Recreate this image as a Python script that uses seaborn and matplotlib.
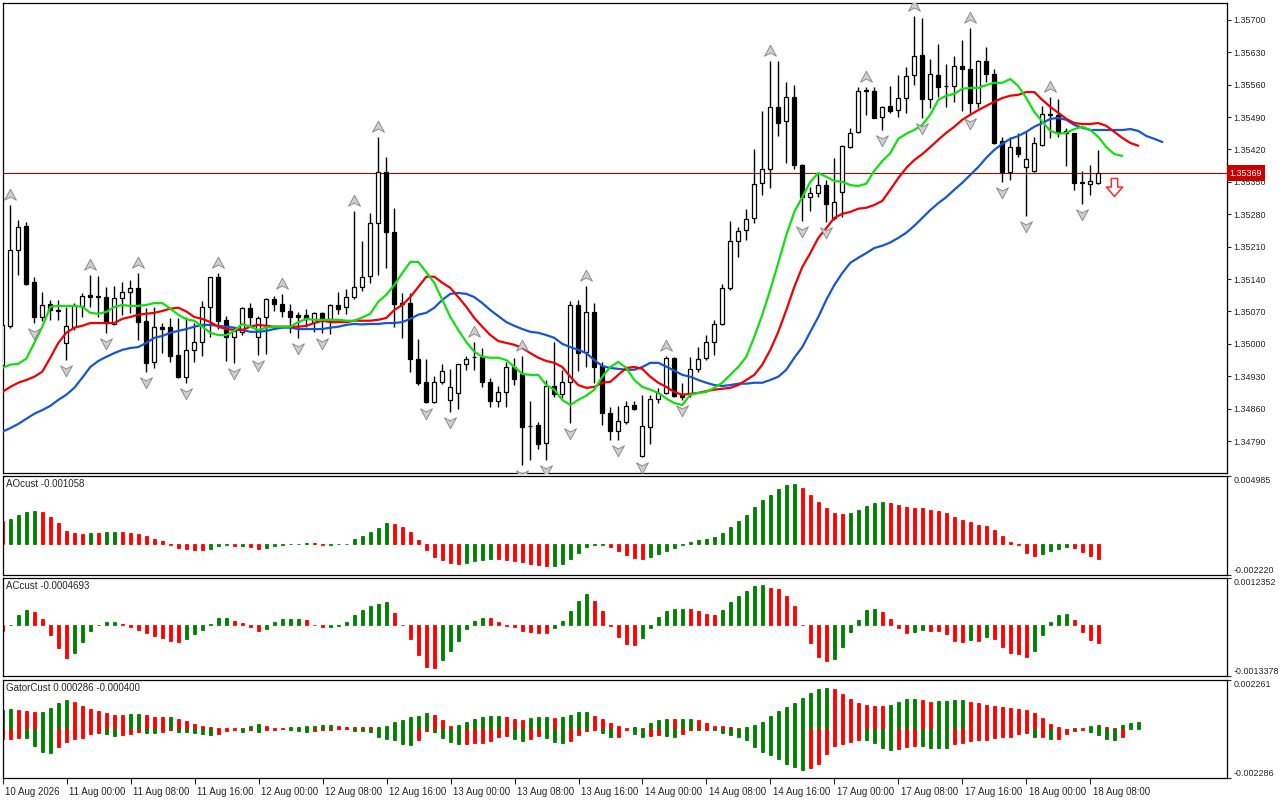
import numpy as np
import matplotlib
matplotlib.use("Agg")
import matplotlib.pyplot as plt
from matplotlib.path import Path
from matplotlib import transforms
import seaborn as sns

sns.set_style("white")
plt.rcParams["font.family"] = ["Liberation Sans", "DejaVu Sans"]
plt.rcParams["axes.edgecolor"] = "black"
plt.rcParams["axes.linewidth"] = 0.9

# hourly candles, 10 Aug 16:00 .. 18 Aug 09:00
opens = [
    1.34955, 1.35039, 1.35203, 1.35255, 1.35134, 1.35058, 1.35086, 1.35073, 1.35002, 1.35037,
    1.35082, 1.35106, 1.35104, 1.35101, 1.35043, 1.35099, 1.35112, 1.35121, 1.35050, 1.34961,
    1.35037, 1.35037, 1.34976, 1.34929, 1.34987, 1.35004, 1.35080, 1.35145, 1.35052, 1.35015,
    1.35026, 1.35078, 1.35015, 1.35058, 1.35097, 1.35086, 1.35071, 1.35063, 1.35063, 1.35047,
    1.35067, 1.35054, 1.35084, 1.35080, 1.35101, 1.35123, 1.35147, 1.35261, 1.35371, 1.35242,
    1.35088, 1.35088, 1.34968, 1.34918, 1.34875, 1.34918, 1.34879, 1.34894, 1.34957, 1.34972,
    1.34972, 1.34918, 1.34877, 1.34896, 1.34950, 1.34935, 1.34823, 1.34825, 1.34786, 1.34909,
    1.34892, 1.34918, 1.35084, 1.34983, 1.35069, 1.34952, 1.34851, 1.34812, 1.34831, 1.34868,
    1.34758, 1.34821, 1.34881, 1.34894, 1.34970, 1.34892, 1.34892, 1.34946, 1.34970, 1.35004,
    1.35043, 1.35121, 1.35222, 1.35246, 1.35272, 1.35348, 1.35378, 1.35512, 1.35482, 1.35534,
    1.35387, 1.35317, 1.35326, 1.35343, 1.35272, 1.35328, 1.35425, 1.35458, 1.35548, 1.35546,
    1.35490, 1.35514, 1.35505, 1.35531, 1.35581, 1.35624, 1.35529, 1.35581, 1.35558, 1.35557,
    1.35600, 1.35594, 1.35521, 1.35611, 1.35583, 1.35438, 1.35371, 1.35425, 1.35382, 1.35374,
    1.35430, 1.35496, 1.35495, 1.35460, 1.35456, 1.35349, 1.35346, 1.35348]
highs = [
    1.35052, 1.35300, 1.35268, 1.35263, 1.35145, 1.35112, 1.35095, 1.35095, 1.35080, 1.35088,
    1.35110, 1.35149, 1.35147, 1.35123, 1.35125, 1.35134, 1.35138, 1.35153, 1.35078, 1.35080,
    1.35045, 1.35056, 1.35056, 1.35058, 1.35045, 1.35093, 1.35145, 1.35153, 1.35060, 1.35037,
    1.35080, 1.35088, 1.35060, 1.35099, 1.35104, 1.35108, 1.35086, 1.35069, 1.35076, 1.35069,
    1.35069, 1.35086, 1.35112, 1.35119, 1.35287, 1.35222, 1.35283, 1.35447, 1.35404, 1.35294,
    1.35110, 1.35110, 1.35011, 1.34968, 1.34931, 1.34957, 1.34946, 1.34957, 1.34974, 1.35004,
    1.34991, 1.34927, 1.34909, 1.34961, 1.34970, 1.34974, 1.34877, 1.34831, 1.34922, 1.35004,
    1.34944, 1.35093, 1.35095, 1.35125, 1.35088, 1.34961, 1.34864, 1.34866, 1.34877, 1.34877,
    1.34890, 1.34890, 1.34905, 1.34974, 1.34972, 1.34916, 1.34972, 1.34993, 1.35019, 1.35052,
    1.35130, 1.35266, 1.35253, 1.35292, 1.35421, 1.35503, 1.35611, 1.35611, 1.35566, 1.35559,
    1.35389, 1.35339, 1.35367, 1.35354, 1.35402, 1.35430, 1.35467, 1.35555, 1.35555, 1.35555,
    1.35514, 1.35557, 1.35581, 1.35598, 1.35708, 1.35704, 1.35616, 1.35648, 1.35605, 1.35622,
    1.35657, 1.35683, 1.35613, 1.35642, 1.35594, 1.35447, 1.35447, 1.35456, 1.35458, 1.35447,
    1.35514, 1.35534, 1.35529, 1.35467, 1.35456, 1.35374, 1.35387, 1.35419]
lows = [
    1.34944, 1.35035, 1.35149, 1.35127, 1.35045, 1.35050, 1.35052, 1.35052, 1.34965, 1.35030,
    1.35058, 1.35080, 1.35058, 1.35024, 1.35041, 1.35063, 1.35067, 1.35009, 1.34940, 1.34948,
    1.34980, 1.34961, 1.34927, 1.34916, 1.34961, 1.34974, 1.35015, 1.35032, 1.34963, 1.34959,
    1.35019, 1.35041, 1.34976, 1.34978, 1.35071, 1.35058, 1.35024, 1.35013, 1.35037, 1.35026,
    1.35024, 1.35022, 1.35065, 1.35065, 1.35097, 1.35114, 1.35132, 1.35149, 1.35164, 1.35037,
    1.35013, 1.34940, 1.34911, 1.34872, 1.34872, 1.34914, 1.34853, 1.34860, 1.34944, 1.34944,
    1.34907, 1.34864, 1.34864, 1.34864, 1.34911, 1.34739, 1.34749, 1.34773, 1.34749, 1.34885,
    1.34883, 1.34829, 1.34942, 1.34950, 1.34916, 1.34825, 1.34793, 1.34793, 1.34827, 1.34857,
    1.34756, 1.34784, 1.34872, 1.34892, 1.34885, 1.34879, 1.34885, 1.34940, 1.34965, 1.34976,
    1.35041, 1.35117, 1.35188, 1.35225, 1.35261, 1.35322, 1.35337, 1.35449, 1.35391, 1.35378,
    1.35266, 1.35287, 1.35317, 1.35263, 1.35268, 1.35274, 1.35423, 1.35456, 1.35495, 1.35488,
    1.35462, 1.35499, 1.35490, 1.35499, 1.35559, 1.35488, 1.35510, 1.35534, 1.35512, 1.35523,
    1.35503, 1.35499, 1.35510, 1.35566, 1.35432, 1.35350, 1.35354, 1.35404, 1.35276, 1.35371,
    1.35428, 1.35445, 1.35447, 1.35384, 1.35333, 1.35302, 1.35322, 1.35346]
closes = [
    1.35041, 1.35203, 1.35253, 1.35130, 1.35058, 1.35084, 1.35073, 1.35071, 1.35039, 1.35084,
    1.35104, 1.35101, 1.35101, 1.35045, 1.35099, 1.35112, 1.35121, 1.35047, 1.34959, 1.35037,
    1.35032, 1.34974, 1.34929, 1.34987, 1.35004, 1.35080, 1.35145, 1.35050, 1.35015, 1.35028,
    1.35078, 1.35058, 1.35056, 1.35097, 1.35086, 1.35071, 1.35058, 1.35058, 1.35054, 1.35067,
    1.35054, 1.35084, 1.35076, 1.35101, 1.35123, 1.35145, 1.35261, 1.35371, 1.35242, 1.35086,
    1.35086, 1.34968, 1.34916, 1.34875, 1.34918, 1.34942, 1.34907, 1.34957, 1.34968, 1.34971,
    1.34918, 1.34877, 1.34896, 1.34950, 1.34924, 1.34821, 1.34822, 1.34784, 1.34909, 1.34892,
    1.34918, 1.35084, 1.34980, 1.35069, 1.34950, 1.34851, 1.34812, 1.34834, 1.34866, 1.34860,
    1.34823, 1.34881, 1.34894, 1.34970, 1.34888, 1.34885, 1.34946, 1.34968, 1.35004, 1.35043,
    1.35121, 1.35222, 1.35244, 1.35270, 1.35346, 1.35378, 1.35512, 1.35477, 1.35534, 1.35387,
    1.35317, 1.35326, 1.35343, 1.35302, 1.35307, 1.35428, 1.35456, 1.35546, 1.35546, 1.35488,
    1.35512, 1.35503, 1.35531, 1.35579, 1.35622, 1.35529, 1.35583, 1.35555, 1.35557, 1.35600,
    1.35594, 1.35521, 1.35611, 1.35583, 1.35434, 1.35371, 1.35425, 1.35410, 1.35400, 1.35434,
    1.35497, 1.35495, 1.35456, 1.35456, 1.35348, 1.35347, 1.35352, 1.35369]

# alligator lines (already shifted forward: lips +3, teeth +5, jaw +8 bars)
lips = [
    1.34948, 1.34955, 1.34957, 1.34968, 1.35002, 1.35037, 1.35080, 1.35082, 1.35082, 1.35082,
    1.35080, 1.35067, 1.35065, 1.35069, 1.35080, 1.35084, 1.35082, 1.35082, 1.35084, 1.35088,
    1.35088, 1.35076, 1.35063, 1.35053, 1.35050, 1.35037, 1.35024, 1.35019, 1.35019, 1.35028,
    1.35043, 1.35037, 1.35030, 1.35035, 1.35037, 1.35037, 1.35037, 1.35047, 1.35054, 1.35052,
    1.35052, 1.35052, 1.35052, 1.35050, 1.35050, 1.35057, 1.35065, 1.35091, 1.35106, 1.35127,
    1.35153, 1.35177, 1.35177, 1.35155, 1.35132, 1.35095, 1.35058, 1.35030, 1.35004, 1.34983,
    1.34972, 1.34970, 1.34970, 1.34965, 1.34950, 1.34935, 1.34933, 1.34933, 1.34911, 1.34901,
    1.34879, 1.34868, 1.34879, 1.34888, 1.34901, 1.34929, 1.34950, 1.34961, 1.34948, 1.34922,
    1.34907, 1.34901, 1.34894, 1.34882, 1.34872, 1.34868, 1.34890, 1.34894, 1.34896, 1.34905,
    1.34916, 1.34933, 1.34950, 1.34972, 1.35015, 1.35063, 1.35117, 1.35175, 1.35235, 1.35285,
    1.35317, 1.35350, 1.35369, 1.35361, 1.35352, 1.35350, 1.35343, 1.35341, 1.35346, 1.35374,
    1.35395, 1.35412, 1.35443, 1.35454, 1.35462, 1.35473, 1.35495, 1.35527, 1.35536, 1.35540,
    1.35551, 1.35553, 1.35553, 1.35559, 1.35564, 1.35564, 1.35572, 1.35557, 1.35531, 1.35501,
    1.35480, 1.35460, 1.35454, 1.35456, 1.35464, 1.35469, 1.35462, 1.35447, 1.35425, 1.35410,
    1.35406]
teeth = [
    1.34896, 1.34907, 1.34916, 1.34922, 1.34929, 1.34940, 1.34970, 1.35002, 1.35024, 1.35035,
    1.35039, 1.35045, 1.35045, 1.35045, 1.35045, 1.35054, 1.35058, 1.35063, 1.35065, 1.35067,
    1.35071, 1.35076, 1.35078, 1.35070, 1.35058, 1.35054, 1.35047, 1.35037, 1.35032, 1.35030,
    1.35030, 1.35037, 1.35041, 1.35039, 1.35037, 1.35037, 1.35037, 1.35037, 1.35039, 1.35045,
    1.35050, 1.35047, 1.35047, 1.35047, 1.35050, 1.35050, 1.35050, 1.35052, 1.35056, 1.35073,
    1.35084, 1.35101, 1.35123, 1.35145, 1.35145, 1.35132, 1.35121, 1.35101, 1.35080, 1.35056,
    1.35037, 1.35019, 1.35006, 1.35002, 1.34998, 1.34991, 1.34980, 1.34970, 1.34963, 1.34959,
    1.34950, 1.34929, 1.34911, 1.34905, 1.34907, 1.34916, 1.34918, 1.34933, 1.34948, 1.34950,
    1.34946, 1.34929, 1.34916, 1.34907, 1.34896, 1.34890, 1.34892, 1.34894, 1.34898, 1.34901,
    1.34903, 1.34905, 1.34911, 1.34922, 1.34933, 1.34955, 1.34987, 1.35026, 1.35073, 1.35123,
    1.35166, 1.35196, 1.35229, 1.35250, 1.35272, 1.35281, 1.35285, 1.35292, 1.35294, 1.35300,
    1.35309, 1.35333, 1.35358, 1.35380, 1.35397, 1.35410, 1.35425, 1.35441, 1.35456, 1.35469,
    1.35484, 1.35495, 1.35505, 1.35514, 1.35523, 1.35531, 1.35536, 1.35538, 1.35544, 1.35544,
    1.35527, 1.35512, 1.35499, 1.35486, 1.35477, 1.35475, 1.35475, 1.35477, 1.35471, 1.35458,
    1.35445, 1.35434, 1.35428]
jaw = [
    1.34810, 1.34818, 1.34827, 1.34838, 1.34849, 1.34857, 1.34866, 1.34879, 1.34890, 1.34905,
    1.34927, 1.34950, 1.34963, 1.34972, 1.34980, 1.34987, 1.34991, 1.34993, 1.35002, 1.35013,
    1.35017, 1.35024, 1.35028, 1.35032, 1.35037, 1.35041, 1.35041, 1.35039, 1.35037, 1.35035,
    1.35030, 1.35026, 1.35026, 1.35028, 1.35032, 1.35035, 1.35035, 1.35032, 1.35032, 1.35032,
    1.35032, 1.35035, 1.35037, 1.35041, 1.35043, 1.35042, 1.35043, 1.35043, 1.35045, 1.35045,
    1.35047, 1.35054, 1.35063, 1.35067, 1.35078, 1.35095, 1.35108, 1.35110, 1.35108, 1.35101,
    1.35088, 1.35073, 1.35060, 1.35047, 1.35039, 1.35032, 1.35026, 1.35024, 1.35019, 1.35013,
    1.35000, 1.34993, 1.34987, 1.34980, 1.34965, 1.34952, 1.34948, 1.34946, 1.34944, 1.34944,
    1.34950, 1.34959, 1.34959, 1.34951, 1.34942, 1.34933, 1.34929, 1.34922, 1.34916, 1.34911,
    1.34909, 1.34911, 1.34914, 1.34914, 1.34916, 1.34916, 1.34922, 1.34929, 1.34944, 1.34970,
    1.34993, 1.35026, 1.35058, 1.35095, 1.35127, 1.35153, 1.35175, 1.35186, 1.35196, 1.35207,
    1.35212, 1.35219, 1.35229, 1.35240, 1.35255, 1.35272, 1.35289, 1.35304, 1.35317, 1.35333,
    1.35348, 1.35365, 1.35382, 1.35402, 1.35419, 1.35432, 1.35443, 1.35449, 1.35458, 1.35469,
    1.35477, 1.35486, 1.35488, 1.35484, 1.35473, 1.35467, 1.35462, 1.35462, 1.35462, 1.35462,
    1.35462, 1.35464, 1.35460, 1.35449, 1.35443, 1.35436]

up_fractals = [1, 11, 17, 27, 35, 44, 47, 59, 65, 73, 83, 96, 108, 114, 121, 131]
down_fractals = [4, 8, 13, 18, 23, 29, 32, 37, 40, 53, 56, 65, 68, 71, 77, 80, 85,
                 100, 103, 110, 115, 121, 125, 128, 135]
signal_bar = 139
signal_price = 1.35339

ao = [
    0.00167, 0.00184, 0.00213, 0.00235, 0.00243, 0.00234, 0.00198, 0.00154, 0.00096, 0.00081,
    0.00074, 0.00081, 0.00080, 0.00088, 0.00089, 0.00087, 0.00081, 0.00074, 0.00059, 0.00037,
    0.00022, -0.00005, -0.00029, -0.00037, -0.00044, -0.00045, -0.00037, -0.00012, -0.00007, -0.00012,
    -0.00011, -0.00022, -0.00037, -0.00029, -0.00015, -0.00005, -0.00002, 0.00001, 0.00012, 0.00007,
    -0.00005, -0.00003, -0.00002, 0.00002, 0.00037, 0.00059, 0.00088, 0.00118, 0.00154, 0.00147,
    0.00125, 0.00088, 0.00029, -0.00044, -0.00096, -0.00118, -0.00140, -0.00147, -0.00140, -0.00125,
    -0.00118, -0.00110, -0.00111, -0.00118, -0.00125, -0.00132, -0.00147, -0.00154, -0.00162, -0.00161,
    -0.00147, -0.00110, -0.00066, -0.00022, -0.00005, -0.00004, -0.00022, -0.00051, -0.00081, -0.00103,
    -0.00110, -0.00096, -0.00074, -0.00051, -0.00029, -0.00005, 0.00015, 0.00029, 0.00037, 0.00051,
    0.00081, 0.00125, 0.00169, 0.00213, 0.00272, 0.00323, 0.00360, 0.00404, 0.00434, 0.00441,
    0.00412, 0.00360, 0.00309, 0.00265, 0.00228, 0.00221, 0.00228, 0.00250, 0.00279, 0.00301,
    0.00309, 0.00301, 0.00287, 0.00272, 0.00265, 0.00263, 0.00250, 0.00243, 0.00228, 0.00198,
    0.00176, 0.00162, 0.00140, 0.00132, 0.00103, 0.00059, 0.00015, -0.00007, -0.00066, -0.00088,
    -0.00074, -0.00051, -0.00037, -0.00022, -0.00029, -0.00059, -0.00088, -0.001058]
ac = [
    -0.000168, 0.000009, 0.000266, 0.000398, 0.000345, 0.000159, -0.000257, -0.000602, -0.000867, -0.000735,
    -0.000443, -0.000150, 0.000004, 0.000080, 0.000084, 0.000018, -0.000053, -0.000124, -0.000204, -0.000283,
    -0.000336, -0.000416, -0.000443, -0.000363, -0.000230, -0.000124, 0.000027, 0.000186, 0.000190, 0.000106,
    0.000053, -0.000044, -0.000150, -0.000097, 0.000080, 0.000159, 0.000164, 0.000168, 0.000133, 0.000009,
    -0.000053, -0.000044, -0.000018, 0.000080, 0.000266, 0.000398, 0.000504, 0.000558, 0.000611, 0.000319,
    -0.000009, -0.000363, -0.000788, -0.001106, -0.001133, -0.000920, -0.000681, -0.000416, -0.000097, 0.000106,
    0.000186, 0.000181, 0.000080, -0.000018, -0.000044, -0.000150, -0.000177, -0.000204, -0.000208, -0.000071,
    0.000106, 0.000372, 0.000637, 0.000797, 0.000637, 0.000372, -0.000018, -0.000310, -0.000496, -0.000522,
    -0.000336, -0.000071, 0.000212, 0.000372, 0.000425, 0.000429, 0.000427, 0.000372, 0.000292, 0.000266,
    0.000398, 0.000611, 0.000770, 0.000876, 0.001009, 0.001035, 0.000956, 0.000929, 0.000770, 0.000504,
    -0.000009, -0.000469, -0.000841, -0.000947, -0.000894, -0.000575, -0.000177, 0.000133, 0.000398, 0.000425,
    0.000345, 0.000159, -0.000071, -0.000204, -0.000177, -0.000124, -0.000150, -0.000155, -0.000230, -0.000416,
    -0.000443, -0.000389, -0.000416, -0.000310, -0.000363, -0.000575, -0.000735, -0.000761, -0.000841, -0.000681,
    -0.000257, 0.000080, 0.000266, 0.000292, 0.000133, -0.000177, -0.000389, -0.0004693]
gator_up = [
    0.000876, 0.000922, 0.000876, 0.000830, 0.000784, 0.000792, 0.000968, 0.001199, 0.001337, 0.001245,
    0.001061, 0.000922, 0.000830, 0.000738, 0.000646, 0.000638, 0.000692, 0.000699, 0.000646, 0.000553,
    0.000546, 0.000553, 0.000461, 0.000369, 0.000231, 0.000138, 0.000061, 0.000046, 0.000038, 0.000031,
    0.000023, 0.000138, 0.000231, 0.000138, 0.000046, 0.000038, 0.000092, 0.000100, 0.000108, 0.000115,
    0.000184, 0.000192, 0.000138, 0.000092, 0.000085, 0.000077, 0.000069, 0.000092, 0.000138, 0.000323,
    0.000415, 0.000553, 0.000599, 0.000738, 0.000646, 0.000415, 0.000138, 0.000154, 0.000323, 0.000461,
    0.000553, 0.000599, 0.000607, 0.000553, 0.000461, 0.000415, 0.000507, 0.000553, 0.000561, 0.000507,
    0.000553, 0.000646, 0.000784, 0.000792, 0.000599, 0.000461, 0.000277, 0.000138, 0.000046, 0.000092,
    0.000046, 0.000277, 0.000415, 0.000461, 0.000446, 0.000461, 0.000469, 0.000415, 0.000277, 0.000138,
    0.000131, 0.000092, 0.000046, 0.000092, 0.000184, 0.000323, 0.000599, 0.000830, 0.001014, 0.001199,
    0.001429, 0.001660, 0.001844, 0.001891, 0.001844, 0.001614, 0.001383, 0.001199, 0.001107, 0.001061,
    0.001053, 0.001107, 0.001245, 0.001383, 0.001391, 0.001337, 0.001245, 0.001291, 0.001299, 0.001337,
    0.001345, 0.001245, 0.001199, 0.001107, 0.001061, 0.001014, 0.000968, 0.000922, 0.000876, 0.000738,
    0.000507, 0.000231, 0.000092, 0.000008, 0.000046, 0.000038, 0.000138, 0.000184, 0.000092, 0.000046,
    0.000184, 0.000286, 0.000323]
gator_down = [
    -0.000492, -0.000461, -0.000430, -0.000446, -0.000784, -0.001061, -0.001107, -0.000830, -0.000599, -0.000461,
    -0.000415, -0.000231, -0.000184, -0.000231, -0.000323, -0.000277, -0.000231, -0.000138, -0.000184, -0.000192,
    -0.000138, -0.000046, -0.000138, -0.000146, -0.000184, -0.000231, -0.000277, -0.000231, -0.000092, -0.000046,
    -0.000138, -0.000046, -0.000138, -0.000046, -0.000038, -0.000031, -0.000046, -0.000092, -0.000138, -0.000092,
    -0.000046, -0.000038, -0.000031, -0.000023, -0.000092, -0.000100, -0.000138, -0.000369, -0.000461, -0.000507,
    -0.000692, -0.000769, -0.000538, -0.000092, -0.000138, -0.000415, -0.000599, -0.000722, -0.000692, -0.000676,
    -0.000661, -0.000553, -0.000369, -0.000354, -0.000461, -0.000553, -0.000461, -0.000323, -0.000415, -0.000599,
    -0.000676, -0.000584, -0.000277, -0.000123, -0.000046, -0.000184, -0.000369, -0.000361, -0.000046, -0.000231,
    -0.000369, -0.000323, -0.000277, -0.000323, -0.000369, -0.000231, -0.000046, -0.000054, -0.000049, -0.000052,
    -0.000184, -0.000277, -0.000369, -0.000507, -0.000830, -0.001061, -0.001199, -0.001383, -0.001614, -0.001752,
    -0.001891, -0.001798, -0.001614, -0.001153, -0.000784, -0.000692, -0.000599, -0.000507, -0.000515, -0.000646,
    -0.000876, -0.000968, -0.000922, -0.000830, -0.000784, -0.000792, -0.000876, -0.000884, -0.000887, -0.000692,
    -0.000646, -0.000553, -0.000507, -0.000500, -0.000446, -0.000369, -0.000361, -0.000231, -0.000184, -0.000369,
    -0.000361, -0.000461, -0.000453, -0.000231, -0.000092, -0.000046, -0.000138, -0.000277, -0.000461, -0.000507,
    -0.000400]

price_ticks = [1.34790, 1.34860, 1.34930, 1.35000, 1.35070, 1.35140, 1.35210,
               1.35280, 1.35350, 1.35420, 1.35490, 1.35560, 1.35630, 1.35700]
tick_bars = [0, 8, 16, 24, 32, 40, 48, 56, 64, 72, 80, 88, 96, 104, 112, 120, 128, 136]
tick_labels = ["10 Aug 2026", "11 Aug 00:00", "11 Aug 08:00", "11 Aug 16:00", "12 Aug 00:00",
               "12 Aug 08:00", "12 Aug 16:00", "13 Aug 00:00", "13 Aug 08:00", "13 Aug 16:00",
               "14 Aug 00:00", "14 Aug 08:00", "14 Aug 16:00", "17 Aug 00:00", "17 Aug 08:00",
               "17 Aug 16:00", "18 Aug 00:00", "18 Aug 08:00"]

GREEN = "#008000"
RED = "#ff0000"
FS = 7        # time labels / pane titles
FS_Y = 6.4    # right-hand price scale


def trend_colors(vals, first, use_abs=False):
    v = np.abs(vals) if use_abs else np.asarray(vals)
    cols = [first]
    for prev, cur in zip(v[:-1], v[1:]):
        cols.append(GREEN if cur > prev else RED)
    return cols


fig = plt.figure(figsize=(12.8, 8), dpi=100)
W, H = 1280.0, 800.0


def pane(top, bottom):
    a = fig.add_axes([2.7 / W, 1 - bottom / H, (1227 - 2.7) / W, (bottom - top) / H])
    a.set_xlim(0.05, 153.09)
    a.set_xticks([])
    for s in a.spines.values():
        s.set_color("black")
        s.set_linewidth(0.9)
    return a


ax = pane(2.7, 473)
ax_ao = pane(475.7, 574.7)
ax_ac = pane(577.7, 676.3)
ax_gt = pane(679.7, 778.3)

# --- main price pane ---
o, h, l, c = map(np.array, (opens, highs, lows, closes))
x = np.arange(len(o))
bull = c > o
ax.vlines(x, l, h, color="black", lw=1, zorder=2)
ax.bar(x, np.abs(c - o), bottom=np.minimum(o, c), width=0.5,
       color=np.where(bull, "white", "black"), edgecolor="black", linewidth=0.9, zorder=3)

sns.lineplot(x=np.arange(len(jaw)), y=jaw, ax=ax, color="#1656d4", lw=1.6, zorder=4)
sns.lineplot(x=np.arange(len(teeth)), y=teeth, ax=ax, color="#f00000", lw=1.6, zorder=4)
sns.lineplot(x=np.arange(len(lips)), y=lips, ax=ax, color="#10e010", lw=1.6, zorder=4)

up_arrow = Path([(0, 1), (0.95, -0.75), (0, -0.25), (-0.95, -0.75), (0, 1)],
                [Path.MOVETO, Path.LINETO, Path.LINETO, Path.LINETO, Path.CLOSEPOLY])
down_arrow = Path([(0, -1), (0.95, 0.75), (0, 0.25), (-0.95, 0.75), (0, -1)],
                  [Path.MOVETO, Path.LINETO, Path.LINETO, Path.LINETO, Path.CLOSEPOLY])
up_tr = transforms.offset_copy(ax.transData, fig=fig, x=0, y=10, units="dots")
dn_tr = transforms.offset_copy(ax.transData, fig=fig, x=0, y=-10, units="dots")
ax.plot(up_fractals, h[up_fractals], ls="none", marker=up_arrow, ms=9,
        mfc="#cfcfcf", mec="#8c8c8c", mew=0.7, transform=up_tr, zorder=5)
ax.plot(down_fractals, l[down_fractals], ls="none", marker=down_arrow, ms=9,
        mfc="#cfcfcf", mec="#8c8c8c", mew=0.7, transform=dn_tr, zorder=5)

sell_arrow = Path([(-0.35, 1), (0.35, 1), (0.35, 0.05), (0.9, 0.05), (0, -1),
                   (-0.9, 0.05), (-0.35, 0.05), (-0.35, 1)],
                  [Path.MOVETO] + [Path.LINETO] * 6 + [Path.CLOSEPOLY])
ax.plot([signal_bar], [signal_price], ls="none", marker=sell_arrow, ms=13,
        mfc="white", mec="#ff2a2a", mew=1.1, zorder=5)

ax.axhline(closes[-1], color="#b00000", lw=0.8, zorder=1)

ax.set_ylim(1.34721, 1.35737)
ax.yaxis.tick_right()
ax.set_yticks(price_ticks)
ax.set_yticklabels([f"{p:.5f}" for p in price_ticks])
ax.tick_params(axis="y", right=True, direction="out", length=3, width=0.8, pad=1.5, labelsize=FS_Y)
ax.annotate(f"{closes[-1]:.5f}", xy=(1, closes[-1]),
            xycoords=transforms.blended_transform_factory(ax.transAxes, ax.transData),
            xytext=(2, 0), textcoords="offset points", ha="left", va="center",
            fontsize=FS_Y, color="white", zorder=10, annotation_clip=False,
            bbox=dict(boxstyle="square,pad=0.35", fc="#c80000", ec="none"))

# --- oscillator panes ---
ax_ao.bar(np.arange(len(ao)), ao, width=0.42, color=trend_colors(ao, RED),
          edgecolor=trend_colors(ao, RED), linewidth=0.6)
ax_ac.bar(np.arange(len(ac)), ac, width=0.42, color=trend_colors(ac, RED),
          edgecolor=trend_colors(ac, RED), linewidth=0.6)
gu_cols = trend_colors(gator_up, GREEN)
gd_cols = trend_colors(gator_down, RED, use_abs=True)
ax_gt.bar(np.arange(len(gator_up)), gator_up, width=0.42, color=gu_cols,
          edgecolor=gu_cols, linewidth=0.6)
ax_gt.bar(np.arange(len(gator_down)), gator_down, width=0.42, color=gd_cols,
          edgecolor=gd_cols, linewidth=0.6)

sub_panes = [
    (ax_ao, (-0.002220, 0.004985), ["-0.002220", "0.004985"], "AOcust -0.001058"),
    (ax_ac, (-0.0013378, 0.0012352), ["-0.0013378", "0.0012352"], "ACcust -0.0004693"),
    (ax_gt, (-0.002286, 0.002261), ["-0.002286", "0.002261"], "GatorCust 0.000286 -0.000400"),
]
for a, lims, labs, title in sub_panes:
    a.set_ylim(*lims)
    a.yaxis.tick_right()
    a.set_yticks(list(lims))
    a.set_yticklabels(labs)
    a.tick_params(axis="y", right=True, direction="out", length=3, width=0.8, pad=1.5, labelsize=FS_Y)
    tl = a.get_yticklabels()
    tl[0].set_va("bottom")
    tl[1].set_va("top")
    a.text(0.003, 0.97, title, transform=a.transAxes, ha="left", va="top", fontsize=FS)

ax_gt.set_xticks(tick_bars)
ax_gt.set_xticklabels(tick_labels)
ax_gt.tick_params(axis="x", bottom=True, direction="out", length=4, width=0.8, pad=2, labelsize=FS)
shift = transforms.ScaledTranslation(2 / 72, 0, fig.dpi_scale_trans)
for t in ax_gt.get_xticklabels():
    t.set_ha("left")
    t.set_transform(t.get_transform() + shift)

fig.savefig("out.png", dpi=100, facecolor="white")
